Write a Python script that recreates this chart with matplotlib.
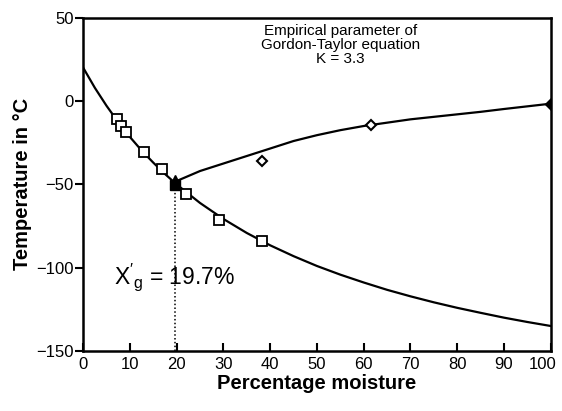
import matplotlib.pyplot as plt
import matplotlib.transforms as mtransforms

# glass transition curve (Gordon-Taylor)
gt_x = [0, 2.5, 5, 7.5, 10, 12.5, 15, 17.5, 20, 25, 30, 35, 40, 45, 50,
        55, 60, 65, 70, 75, 80, 85, 90, 95, 100]
gt_y = [20, 7.9, -2.9, -12.7, -21.6, -29.7, -37.0, -43.8, -50.1, -61.2, -70.8,
        -79.2, -86.6, -93.1, -99.0, -104.2, -108.9, -113.3, -117.2, -120.8,
        -124.1, -127.1, -130.0, -132.6, -135.0]

# ice melting curve
ice_x = [20, 25, 30, 35, 40, 45, 50, 55, 60, 65, 70, 75, 80, 85, 90, 95, 100]
ice_y = [-48, -42, -37.5, -33, -28.5, -24, -20.5, -17.5, -15, -13, -11, -9.5,
         -8, -6.5, -4.8, -3.2, -1.6]

# measured points
sq_x = [7.3, 8.0, 9.1, 13.0, 16.9, 22.0, 29.1, 38.3]
sq_y = [-11, -15, -18.4, -30.4, -41, -56, -71.4, -84]
dia_x = [38.3, 61.6]
dia_y = [-36, -14.4]
xg = 19.7
tg_prime = -50.6
tm_prime = -46.6

font = ['Liberation Sans', 'DejaVu Sans']

fig = plt.figure(figsize=(5.62, 4.11), dpi=100)
ax = fig.add_axes([0.148, 0.146, 0.832, 0.811])

ax.plot(gt_x, gt_y, color='black', lw=1.6)
ax.plot(ice_x, ice_y, color='black', lw=1.6)
ax.plot(sq_x, sq_y, 's', ms=6.5, mfc='white', mec='black', mew=1.3)
ax.plot(dia_x, dia_y, 'D', ms=5.5, mfc='white', mec='black', mew=1.5)
ax.plot([100], [-1.6], 'D', ms=6, mfc='black', mec='black')
ax.plot([xg], [tg_prime], 's', ms=7, mfc='black', mec='black')
ax.plot([xg], [tm_prime], '^', ms=6, mfc='black', mec='black')
ax.plot([xg, xg], [-150, tg_prime], color='black', lw=1.1, ls=(0, (1, 1.5)))

ax.text(55, 46, 'Empirical parameter of\nGordon-Taylor equation\nK = 3.3',
        ha='center', va='top', fontsize=11, family=font, linespacing=1.0)
ax.text(6.5, -110, r"$\mathregular{X'_g}$ = 19.7%", fontsize=16.5, family=font)

ax.set_xlim(0, 100)
ax.set_ylim(-150, 50)
ax.set_xticks(range(0, 101, 10))
ax.set_yticks([-150, -100, -50, 0, 50])
ax.set_xticklabels([str(v) for v in range(0, 101, 10)], family=font, fontsize=12)
ax.set_yticklabels(['\u2212150', '\u2212100', '\u221250', '0', '50'],
                   family=font, fontsize=12)
ax.tick_params(axis='x', direction='in', length=6, width=1.5, pad=4)
ax.tick_params(axis='y', direction='out', length=6, width=1.5, pad=1)
for s in ax.spines.values():
    s.set_linewidth(1.8)

# keep the "100" label inside the figure
last = ax.get_xticklabels()[-1]
last.set_transform(last.get_transform() +
                   mtransforms.ScaledTranslation(-6 / 72, 0, fig.dpi_scale_trans))

ax.set_xlabel('Percentage moisture', fontsize=14.5, fontweight='bold',
              family=font, labelpad=2)
ax.set_ylabel('Temperature in \u00b0C', fontsize=14.5, fontweight='bold',
              family=font)
ax.yaxis.set_label_coords(-0.109, 0.5)

fig.savefig('out.png', dpi=100)
